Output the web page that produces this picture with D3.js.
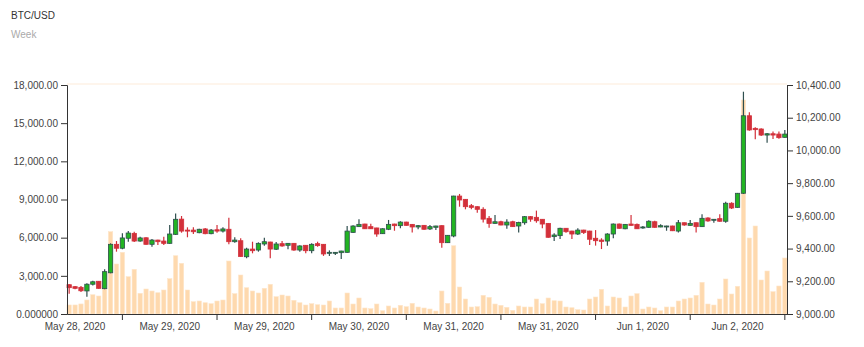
<!DOCTYPE html>
<html><head><meta charset="utf-8">
<script src="https://cdn.jsdelivr.net/npm/d3@7"></script>
<style>
body{margin:0;background:#fff;}
text{font-family:"Liberation Sans",Arial,sans-serif;}
</style>
</head><body>
<svg id="chart" width="864" height="347"></svg>
<script>
const title = "BTC/USD";
const subtitle = "Week";
const opens = [9179,9167,9163,9141,9182,9200,9155,9252,9426,9402,9463,9493,9446,9466,9426,9452,9446,9432,9487,9580,9513,9513,9497,9520,9491,9515,9507,9518,9442,9448,
9350,9397,9391,9428,9440,9396,9430,9420,9432,9391,9420,9387,9430,9426,9371,9371,9375,9377,9499,9534,9550,9534,9526,9491,9518,9550,9540,9562,9548,9532,
9542,9520,9530,9540,9436,9477,9721,9701,9662,9656,9640,9585,9554,9564,9544,9564,9538,9558,9595,9591,9579,9554,9473,9479,9524,9507,9489,9513,9507,9463,
9452,9446,9489,9550,9521,9550,9548,9526,9530,9564,9532,9532,9538,9507,9558,9542,9558,9534,9587,9573,9583,9567,9677,9652,9738,10212,10135,10131,10094,10102,10100,10080];
const closes = [9161,9157,9142,9182,9197,9157,9259,9426,9402,9465,9495,9446,9465,9426,9452,9442,9432,9489,9579,9507,9507,9503,9518,9491,9513,9507,9520,9442,9452,9352,
9397,9387,9432,9442,9397,9428,9416,9432,9391,9416,9387,9426,9418,9367,9377,9377,9385,9507,9538,9548,9521,9521,9489,9521,9548,9540,9562,9542,9532,9540,
9518,9534,9538,9436,9481,9721,9697,9656,9652,9640,9580,9554,9564,9544,9562,9534,9560,9595,9580,9570,9550,9469,9483,9524,9503,9489,9513,9499,9457,9448,
9444,9489,9550,9524,9548,9542,9521,9532,9567,9530,9540,9538,9509,9558,9544,9554,9534,9585,9569,9579,9567,9677,9648,9738,10212,10125,10127,10094,10102,10094,10078,10100];
const highs = [9182,9171,9171,9188,9204,9202,9273,9432,9446,9493,9507,9503,9473,9469,9459,9454,9473,9544,9615,9599,9530,9530,9521,9526,9520,9544,9530,9589,9469,9463,
9405,9442,9438,9466,9442,9440,9446,9434,9434,9420,9422,9432,9442,9428,9389,9379,9387,9538,9542,9579,9552,9552,9528,9524,9575,9552,9567,9564,9550,9544,
9544,9544,9540,9542,9483,9723,9734,9703,9672,9658,9652,9599,9605,9570,9579,9570,9564,9599,9599,9632,9580,9556,9493,9528,9526,9509,9524,9515,9509,9513,
9463,9493,9554,9554,9550,9605,9554,9538,9573,9570,9548,9540,9540,9575,9560,9575,9560,9610,9591,9580,9610,9687,9683,9740,10359,10233,10141,10135,10107,10115,10115,10125];
const lows = [9124,9151,9134,9106,9175,9155,9151,9249,9381,9396,9442,9440,9442,9424,9411,9422,9422,9430,9483,9497,9469,9489,9493,9487,9487,9497,9499,9426,9436,9350,
9341,9371,9381,9418,9341,9391,9411,9396,9387,9381,9371,9371,9411,9355,9355,9361,9336,9375,9497,9532,9520,9520,9473,9489,9513,9509,9524,9540,9499,9518,
9515,9513,9513,9405,9434,9469,9656,9640,9640,9619,9560,9527,9552,9542,9521,9532,9499,9546,9564,9558,9524,9466,9446,9459,9497,9459,9483,9489,9422,9418,
9397,9418,9463,9521,9518,9540,9520,9521,9528,9528,9530,9509,9507,9499,9540,9540,9499,9532,9564,9558,9564,9558,9642,9650,9734,10121,10068,10088,10047,10070,10072,10078];
const volumes = [710,710,790,1100,1517,1415,2020,6469,3930,4850,2932,3513,1627,1965,1808,1674,1886,2775,4582,3985,1886,967,1022,888,810,1022,1100,4166,1596,3065,
2067,1808,1651,2020,2334,1360,1493,1415,1077,888,707,810,731,707,1022,472,472,1651,786,1258,472,417,786,259,629,472,684,574,841,550,
472,393,236,1808,841,5368,2122,1179,550,574,1470,1313,786,684,527,291,629,550,550,1179,810,1258,1045,1022,550,495,338,314,1179,1336,
1941,629,1336,1258,550,1415,1596,393,550,472,259,550,550,1022,1179,1258,1470,2492,786,707,1179,2751,1572,2177,16820,5974,6917,2672,3380,1753,2201,4402];
const xTickLabels = ["May 28, 2020","May 29, 2020","May 29, 2020","May 30, 2020","May 31, 2020","May 31, 2020","Jun 1, 2020","Jun 2, 2020"];
const xTickIndex = [9,25,41,57,73,89,105,121];
const volTicks = [0,3000,6000,9000,12000,15000,18000];
const priceTicks = [9000,9200,9400,9600,9800,10000,10200,10400];

const n = opens.length;
const svg = d3.select("#chart");
const L = 67, R = 787, T = 85, B = 314;

const x = d3.scaleBand().domain(d3.range(n)).range([L, R]).paddingInner(0.27).paddingOuter(0);
const yV = d3.scaleLinear().domain([0, 18000]).range([B, T]);
const yP = d3.scaleLinear().domain([9000, 10400]).range([B, T]);
const bw = x.bandwidth();

svg.append("text").attr("x", 11).attr("y", 18.5).attr("font-size", 10).attr("fill", "#333").text(title);
svg.append("text").attr("x", 11).attr("y", 38).attr("font-size", 10).attr("fill", "#aaa").text(subtitle);

// faint top band
svg.append("rect").attr("x", L).attr("y", T - 2).attr("width", R - L).attr("height", 2).attr("fill", "#fef5ec");

// volume bars
svg.append("g").selectAll("rect").data(volumes).join("rect")
  .attr("x", (d, i) => x(i)).attr("width", bw)
  .attr("y", d => yV(d)).attr("height", d => yV(0) - yV(d))
  .attr("fill", "#fed9ae").attr("stroke", "#fee6cb").attr("stroke-width", 0.6);

// candles
const cg = svg.append("g");
const up = i => closes[i] >= opens[i];
const red = "#d3303a", green = "#22b422", dark = "#2f4f4f";
cg.selectAll("line").data(d3.range(n)).join("line")
  .attr("x1", i => x(i) + bw / 2).attr("x2", i => x(i) + bw / 2)
  .attr("y1", i => yP(highs[i])).attr("y2", i => yP(lows[i]))
  .attr("stroke", i => up(i) ? dark : red).attr("stroke-width", 1.2);
cg.selectAll("rect").data(d3.range(n)).join("rect")
  .attr("x", i => x(i)).attr("width", bw)
  .attr("y", i => yP(Math.max(opens[i], closes[i])))
  .attr("height", i => Math.max(1, Math.abs(yP(opens[i]) - yP(closes[i]))))
  .attr("fill", i => up(i) ? green : red)
  .attr("stroke", i => up(i) ? dark : red).attr("stroke-width", 0.8);

// axes
const fmt = d3.format(",.2f");
const gl = svg.append("g").attr("transform", `translate(${L},0)`)
  .call(d3.axisLeft(yV).tickValues(volTicks).tickFormat(d => d === 0 ? "0.000000" : fmt(d)));
const gr = svg.append("g").attr("transform", `translate(${R},0)`)
  .call(d3.axisRight(yP).tickValues(priceTicks).tickFormat(fmt));
const gx = svg.append("g").attr("transform", `translate(0,${B})`)
  .call(d3.axisBottom(x).tickValues(xTickIndex).tickFormat((d, i) => xTickLabels[i]).tickSizeOuter(0));
const shift = x.step() * 8;
gx.selectAll(".tick text").attr("transform", `translate(${-shift},0)`);
[gl, gr, gx].forEach(g => {
  g.selectAll("text").attr("font-family", '"Liberation Sans",Arial,sans-serif').attr("font-size", 10).attr("fill", "#444");
  g.selectAll("path,line").attr("stroke", "#333");
});
</script>
</body></html>
